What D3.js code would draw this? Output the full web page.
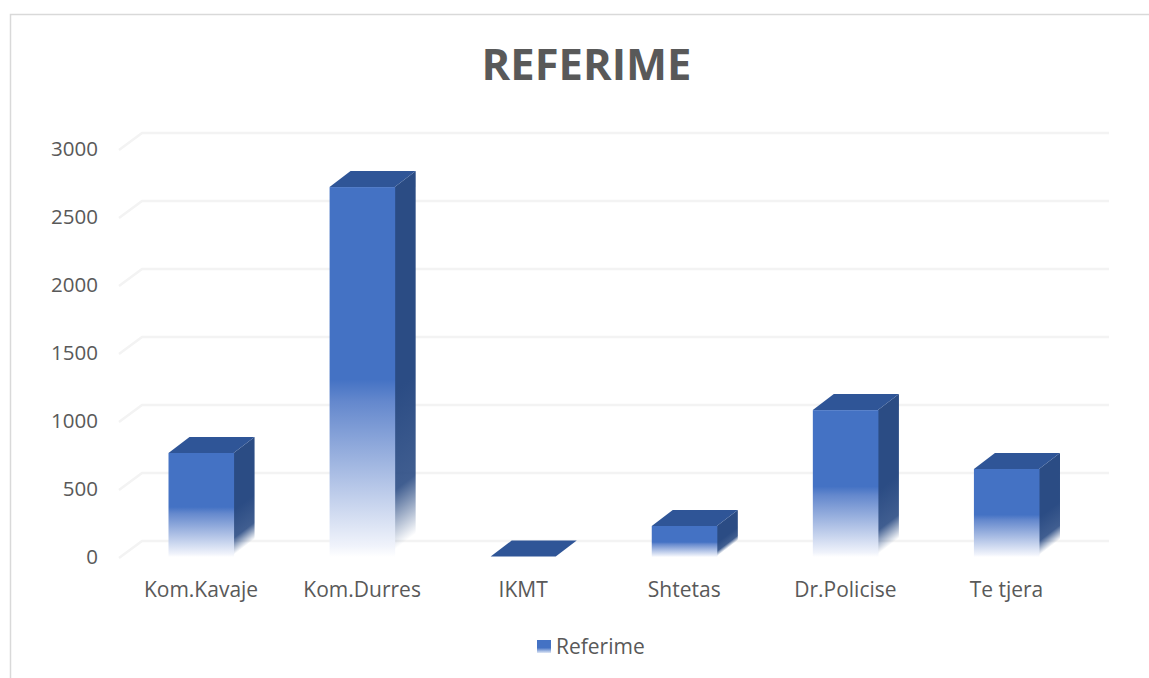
<!DOCTYPE html>
<html><head><meta charset="utf-8">
<script src="https://cdnjs.cloudflare.com/ajax/libs/d3/7.8.5/d3.min.js"></script>
<style>html,body{margin:0;padding:0;background:#fff}svg{display:block}text{font-family:"Open Sans",sans-serif;fill:#595959}</style>
</head><body><svg id="c" width="1149" height="678"></svg>
<script>
const categories=["Kom.Kavaje","Kom.Durres","IKMT","Shtetas","Dr.Policise","Te tjera"];
const seriesName="Referime";
const values=[765,2720,3,228,1080,647];
const yTicks=[0,500,1000,1500,2000,2500,3000];
const chartTitle="REFERIME";

const svg=d3.select("#c");
const depthX=21,depthY=16;
const x=d3.scaleBand().domain(categories).range([120.5,1087]).paddingInner(.596).paddingOuter(.298);
const y=d3.scaleLinear().domain([0,3000]).range([557,149]);

const defs=svg.append("defs");
function addStops(g,stops){
  stops.forEach(s=>g.append("stop").attr("offset",s[0]).attr("stop-color",s[1]).attr("stop-opacity",s[2]));
  return g;
}
function grad(id,stops){
  addStops(defs.append("linearGradient").attr("id",id).attr("x1",0).attr("y1",0).attr("x2",0).attr("y2",1),stops);
}
grad("front",[[0,"#4472c4",1],[.52,"#4472c4",1],[.58,"#6488cd",1],[.97,"#f0f3fb",1],[1,"#ffffff",1]]);
grad("key",[[0,"#4472c4",1],[.6,"#4472c4",1],[1,"#dfe7f5",1]]);
const sideStops=[[0,"#2b4c84",1],[.55,"#2b4c84",1],[.82,"#2b4c84",.9],[.98,"#2b4c84",0],[1,"#2b4c84",0]];

// chart frame
svg.append("path").attr("d","M10.5,678V14.5H1149").attr("fill","none").attr("stroke","#d9d9d9").attr("stroke-width",1.5);

// gridlines (floor edge + back wall)
const grid=svg.append("g").attr("fill","none").attr("stroke","#f3f3f3").attr("stroke-width",2.5);
yTicks.forEach(t=>{
  grid.append("path").attr("d",d3.line()([[119,y(t)+1],[119+depthX+2,y(t)-depthY],[1109,y(t)-depthY]]));
});

// y labels
svg.append("g").selectAll("text").data(yTicks).join("text")
  .attr("x",98).attr("y",d=>y(d)+2).attr("text-anchor","end").attr("dominant-baseline","middle")
  .attr("font-size",20.5).text(d=>d);

// bars
const bars=svg.append("g").selectAll("g").data(categories).join("g");
bars.each(function(c,i){
  const g=d3.select(this),x0=x(c),w=x.bandwidth(),yt=y(values[i]),yb=y(0);
  const line=d3.line();
  if(yb-yt>2){
    // side-face fade runs parallel to the slanted bottom edge
    const k=depthY/depthX,xr=x0+w;
    addStops(defs.append("linearGradient").attr("id","side"+i).attr("gradientUnits","userSpaceOnUse")
      .attr("x1",0).attr("x2",0).attr("y1",yt).attr("y2",yb)
      .attr("gradientTransform",`matrix(1,${-k},0,1,0,${xr*k})`),sideStops);
    g.append("path").attr("fill",`url(#side${i})`).attr("d",line([[xr,yt],[xr+depthX,yt-depthY],[xr+depthX,yb-depthY],[xr,yb]])+"Z");
    g.append("rect").attr("x",x0).attr("y",yt).attr("width",w+.5).attr("height",yb-yt).attr("fill","url(#front)");
  }
  g.append("path").attr("fill","#2f5597").attr("d",line([[x0,yt],[x0+depthX,yt-depthY],[x0+w+depthX,yt-depthY],[x0+w,yt]])+"Z");
});

// category labels
svg.append("g").selectAll("text").data(categories).join("text")
  .attr("x",d=>x(d)+x.bandwidth()/2).attr("y",597).attr("text-anchor","middle")
  .attr("font-size",21).text(d=>d);

// title
svg.append("text").attr("x",586.5).attr("y",80).attr("text-anchor","middle")
  .attr("font-size",43.5).attr("font-weight",700).text(chartTitle);

// legend
svg.append("rect").attr("x",537).attr("y",640).attr("width",14).attr("height",13).attr("fill","url(#key)");
svg.append("text").attr("x",556).attr("y",654).attr("font-size",21).text(seriesName);
</script></body></html>
